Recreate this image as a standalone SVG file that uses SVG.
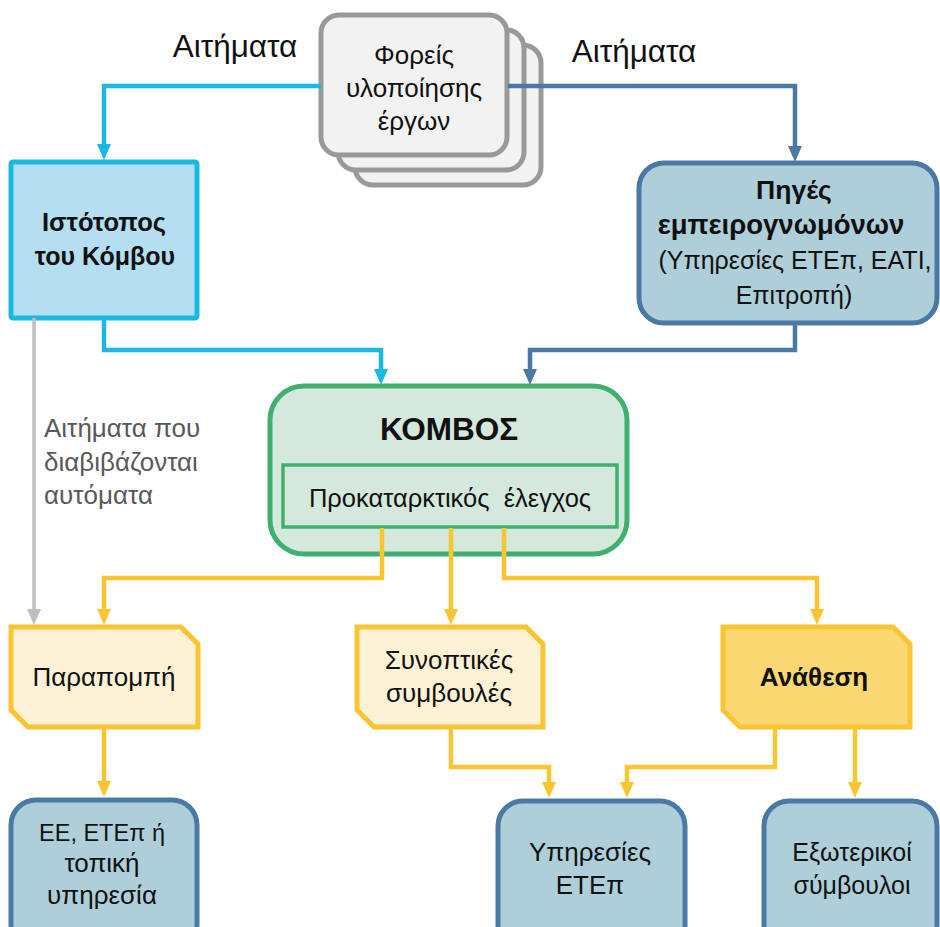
<svg xmlns="http://www.w3.org/2000/svg" width="940" height="927" viewBox="0 0 940 927">
<defs>
<style>
text{font-family:"Liberation Sans",Arial,sans-serif;font-size:26px;fill:#111;text-anchor:middle}
.b{font-weight:bold}
.stack{fill:#f2f2f2;stroke:#999;stroke-width:5}
.blue{fill:#aecfd9;stroke:#4a79a5;stroke-width:5}
.cy{fill:none;stroke:#1cb8e5;stroke-width:4.5}
.db{fill:none;stroke:#4a79a5;stroke-width:4.5}
.ye{fill:none;stroke:#fbc531;stroke-width:4.5}
.gr{fill:none;stroke:#bfbfbf;stroke-width:3.5}
.gt{fill:#595959;text-anchor:start}
</style>
<marker id="aC" viewBox="0 0 16 14" refX="6" refY="7" markerWidth="16" markerHeight="14" markerUnits="userSpaceOnUse" orient="auto"><path d="M0,0 L16,7 L0,14 z" fill="#1cb8e5"/></marker>
<marker id="aB" viewBox="0 0 16 14" refX="6" refY="7" markerWidth="16" markerHeight="14" markerUnits="userSpaceOnUse" orient="auto"><path d="M0,0 L16,7 L0,14 z" fill="#4a79a5"/></marker>
<marker id="aY" viewBox="0 0 16 14" refX="6" refY="7" markerWidth="16" markerHeight="14" markerUnits="userSpaceOnUse" orient="auto"><path d="M0,0 L16,7 L0,14 z" fill="#fbc531"/></marker>
<marker id="aG" viewBox="0 0 16 14" refX="6" refY="7" markerWidth="16" markerHeight="14" markerUnits="userSpaceOnUse" orient="auto"><path d="M0,0 L16,7 L0,14 z" fill="#bfbfbf"/></marker>
</defs>
<rect width="940" height="927" fill="#fff"/>

<g id="label-requests-left"><text x="235" y="57" style="font-size:31.5px">Αιτήματα</text></g>
<g id="label-requests-right"><text x="634" y="62" style="font-size:31.5px">Αιτήματα</text></g>
<g id="label-auto"><text class="gt" x="44" y="437">Αιτήματα που</text><text class="gt" x="44" y="471">διαβιβάζονται</text><text class="gt" x="44" y="504">αυτόματα</text></g>

<g id="foreis">
<rect class="stack" x="355" y="45" width="186" height="140" rx="18"/>
<rect class="stack" x="338" y="30" width="186" height="140" rx="18"/>
<rect class="stack" x="321" y="15" width="186" height="140" rx="18"/>
<text x="414" y="64">Φορείς</text>
<text x="414" y="97">υλοποίησης</text>
<text x="414" y="130">έργων</text>
</g>

<g id="istotopos">
<rect x="11" y="162" width="186" height="156" fill="#b4dff0" stroke="#1cb8e5" stroke-width="5" rx="2"/>
<text class="b" x="104" y="231" style="font-size:25.5px">Ιστότοπος</text>
<text class="b" x="105" y="265" style="font-size:25px">του Κόμβου</text>
</g>

<g id="piges">
<rect class="blue" x="639" y="163" width="298" height="160" rx="25"/>
<text class="b" x="794" y="199" style="font-size:26.5px">Πηγές</text>
<text class="b" x="781" y="234" style="font-size:27.5px">εμπειρογνωμόνων</text>
<text x="795" y="269" style="font-size:25px">(Υπηρεσίες ΕΤΕπ, ΕΑΤΙ,</text>
<text x="794" y="304" style="font-size:25px">Επιτροπή)</text>
</g>

<g id="kombos">
<rect x="270" y="386" width="357" height="168" rx="34" fill="#d5e8dc" stroke="#40b070" stroke-width="5"/>
<text class="b" x="449" y="440" style="font-size:31.5px">ΚΟΜΒΟΣ</text>
<rect x="283" y="465" width="334" height="62" fill="#d5e8dc" stroke="#40b070" stroke-width="3.5"/>
<text x="450" y="507" style="font-size:25.5px" xml:space="preserve">Προκαταρκτικός  έλεγχος</text>
</g>

<g id="parapompi">
<polygon points="11,627 181,627 198,644 198,727 28,727 11,710" fill="#fdf2d6" stroke="#fbc531" stroke-width="5"/>
<text x="104" y="686">Παραπομπή</text>
</g>

<g id="synoptikes">
<polygon points="357,627 526,627 543,644 543,727 374,727 357,710" fill="#fdf2d6" stroke="#fbc531" stroke-width="5"/>
<text x="449" y="669">Συνοπτικές</text>
<text x="449" y="702">συμβουλές</text>
</g>

<g id="anathesi">
<polygon points="723,627 893,627 910,644 910,727 740,727 723,710" fill="#fcd872" stroke="#fbc531" stroke-width="5"/>
<text class="b" x="814" y="686">Ανάθεση</text>
</g>

<g id="ee">
<rect class="blue" x="11" y="800" width="186" height="150" rx="25"/>
<text x="102" y="841" style="font-size:23.5px">ΕΕ, ΕΤΕπ ή</text>
<text x="102" y="872">τοπική</text>
<text x="102" y="904">υπηρεσία</text>
</g>

<g id="ypiresies">
<rect class="blue" x="498" y="801" width="187" height="150" rx="25"/>
<text x="590" y="861">Υπηρεσίες</text>
<text x="590" y="894">ΕΤΕπ</text>
</g>

<g id="exoterikoi">
<rect class="blue" x="764" y="801" width="173" height="150" rx="25"/>
<text x="852" y="861" style="font-size:25px">Εξωτερικοί</text>
<text x="852" y="894" style="font-size:25px">σύμβουλοι</text>
</g>

<g id="connectors">
<path class="cy" d="M321,86 H104 V150" marker-end="url(#aC)"/>
<path class="db" d="M508,86 H795 V152" marker-end="url(#aB)"/>
<path class="cy" d="M104,318 V350 H381 V375" marker-end="url(#aC)"/>
<path class="db" d="M795,323 V350 H530 V375" marker-end="url(#aB)"/>
<path class="gr" d="M34,318 V615" marker-end="url(#aG)"/>
<path class="ye" d="M382,528 V578 H104 V615" marker-end="url(#aY)"/>
<path class="ye" d="M451,528 V615" marker-end="url(#aY)"/>
<path class="ye" d="M504,528 V578 H817 V615" marker-end="url(#aY)"/>
<path class="ye" d="M104,727 V787" marker-end="url(#aY)"/>
<path class="ye" d="M451,727 V767 H549 V788" marker-end="url(#aY)"/>
<path class="ye" d="M775,727 V767 H627 V788" marker-end="url(#aY)"/>
<path class="ye" d="M855,727 V788" marker-end="url(#aY)"/>
</g>
</svg>
